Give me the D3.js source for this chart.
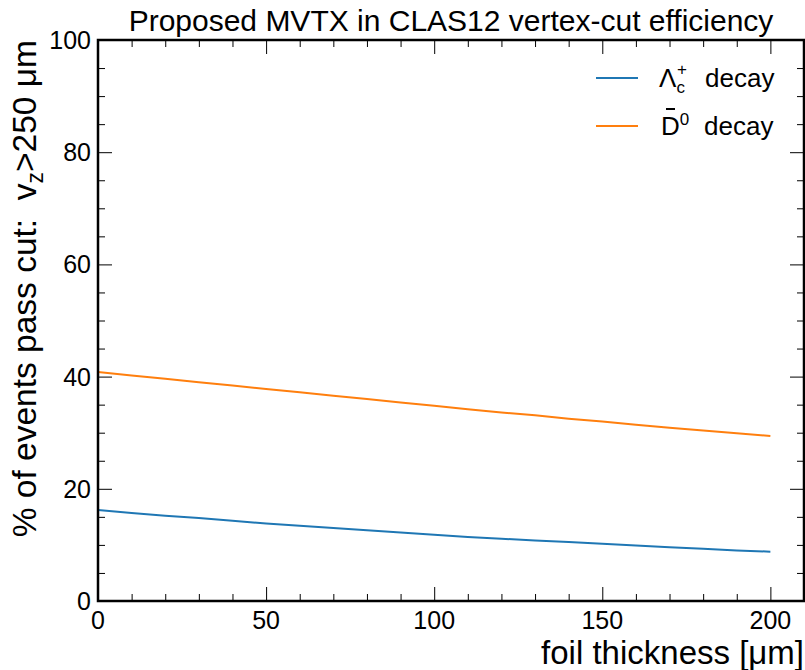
<!DOCTYPE html>
<html>
<head>
<meta charset="utf-8">
<script src="https://cdn.jsdelivr.net/npm/d3@7"></script>
<style>
	html, body { margin: 0; padding: 0; background: #fff; }
	svg { display: block; font-family: 'Liberation Sans', Arial, sans-serif; }
</style>
</head>
<body>
<script>
(function() {
	'use strict';

	// DATA //

	var thickness = [ 0, 10, 20, 30, 40, 50, 60, 70, 80, 90, 100, 110, 120, 130, 140, 150, 160, 170, 180, 190, 200 ],
		lambdaC = [ 16.2, 15.7, 15.2, 14.8, 14.3, 13.8, 13.4, 13.0, 12.6, 12.2, 11.8, 11.4, 11.1, 10.8, 10.5, 10.2, 9.9, 9.6, 9.3, 9.0, 8.8 ],
		dbar0 = [ 40.8, 40.2, 39.6, 39.0, 38.4, 37.8, 37.2, 36.6, 36.0, 35.4, 34.8, 34.2, 33.6, 33.1, 32.5, 32.0, 31.4, 30.9, 30.4, 29.9, 29.4 ],
		xTicks = [ 0, 50, 100, 150, 200 ],
		yTicks = [ 0, 20, 40, 60, 80, 100 ];


	// VARIABLES //

	var WIDTH = 805,
		HEIGHT = 670,
		LEFT = 98,
		RIGHT = 804,
		TOP = 40,
		BOTTOM = 601,
		MAJOR = 14,
		MINOR = 7,
		BLUE = '#1f77b4',
		ORANGE = '#ff7f0e';

	var svg,
		x,
		y,
		line,
		xMinor,
		yMinor,
		leg;

	// Create the canvas:
	svg = d3.select( 'body' ).append( 'svg' )
		.attr( 'width', WIDTH )
		.attr( 'height', HEIGHT )
		.attr( 'viewBox', '0 0 ' + WIDTH + ' ' + HEIGHT );

	// Scales:
	x = d3.scaleLinear().domain( [ 0, 210 ] ).range( [ LEFT, RIGHT ] );
	y = d3.scaleLinear().domain( [ 0, 100 ] ).range( [ BOTTOM, TOP ] );

	xMinor = d3.range( 0, 211, 10 ).filter( function ( d ) { return d % 50 !== 0; } );
	yMinor = d3.range( 0, 101, 5 ).filter( function ( d ) { return d % 20 !== 0; } );

	// Inward ticks on all four sides:
	function ticks( axis, sel, len ) {
		svg.append( 'g' )
			.attr( 'transform', sel )
			.call( axis.tickSize( -len ).tickFormat( '' ) )
			.call( function ( g ) {
				g.select( '.domain' ).remove();
				g.selectAll( 'line' ).attr( 'stroke', '#000' ).attr( 'stroke-width', 1 );
			});
	}
	ticks( d3.axisBottom( x ).tickValues( xTicks ), 'translate(0,' + BOTTOM + ')', MAJOR );
	ticks( d3.axisBottom( x ).tickValues( xMinor ), 'translate(0,' + BOTTOM + ')', MINOR );
	ticks( d3.axisTop( x ).tickValues( xTicks ), 'translate(0,' + TOP + ')', MAJOR );
	ticks( d3.axisTop( x ).tickValues( xMinor ), 'translate(0,' + TOP + ')', MINOR );
	ticks( d3.axisLeft( y ).tickValues( yTicks ), 'translate(' + LEFT + ',0)', MAJOR );
	ticks( d3.axisLeft( y ).tickValues( yMinor ), 'translate(' + LEFT + ',0)', MINOR );
	ticks( d3.axisRight( y ).tickValues( yTicks ), 'translate(' + RIGHT + ',0)', MAJOR );
	ticks( d3.axisRight( y ).tickValues( yMinor ), 'translate(' + RIGHT + ',0)', MINOR );

	// Tick labels:
	svg.append( 'g' ).selectAll( 'text' )
		.data( xTicks )
	  .enter().append( 'text' )
		.attr( 'x', function ( d ) { return x( d ); } )
		.attr( 'y', BOTTOM + 28 )
		.attr( 'text-anchor', 'middle' )
		.attr( 'font-size', 25 )
		.text( function ( d ) { return d; } );

	svg.append( 'g' ).selectAll( 'text' )
		.data( yTicks )
	  .enter().append( 'text' )
		.attr( 'x', LEFT - 7 )
		.attr( 'y', function ( d ) { return y( d ) + 9; } )
		.attr( 'text-anchor', 'end' )
		.attr( 'font-size', 25 )
		.text( function ( d ) { return d; } );

	// Lines:
	line = function ( vals ) {
		return d3.line()
			.x( function ( d, i ) { return x( thickness[ i ] ); } )
			.y( function ( d ) { return y( d ); } )( vals );
	};
	svg.append( 'path' )
		.attr( 'd', line( lambdaC ) )
		.attr( 'fill', 'none' )
		.attr( 'stroke', BLUE )
		.attr( 'stroke-width', 2 );
	svg.append( 'path' )
		.attr( 'd', line( dbar0 ) )
		.attr( 'fill', 'none' )
		.attr( 'stroke', ORANGE )
		.attr( 'stroke-width', 2 );

	// Frame:
	svg.append( 'rect' )
		.attr( 'x', LEFT )
		.attr( 'y', TOP )
		.attr( 'width', RIGHT - LEFT )
		.attr( 'height', BOTTOM - TOP )
		.attr( 'fill', 'none' )
		.attr( 'stroke', '#000' )
		.attr( 'stroke-width', 2.5 );

	// Title:
	svg.append( 'text' )
		.attr( 'x', ( LEFT + RIGHT ) / 2 )
		.attr( 'y', 31 )
		.attr( 'text-anchor', 'middle' )
		.attr( 'font-size', 30 )
		.text( 'Proposed MVTX in CLAS12 vertex-cut efficiency' );

	// Axis labels:
	svg.append( 'text' )
		.attr( 'x', RIGHT )
		.attr( 'y', 664 )
		.attr( 'text-anchor', 'end' )
		.attr( 'font-size', 33 )
		.text( 'foil thickness [μm]' );

	var yl = svg.append( 'text' )
		.attr( 'transform', 'translate(36,' + TOP + ') rotate(-90)' )
		.attr( 'text-anchor', 'end' )
		.attr( 'font-size', 33.5 );
	yl.append( 'tspan' ).text( '% of events pass cut:\u00a0\u00a0v' );
	yl.append( 'tspan' ).attr( 'font-size', 23 ).attr( 'dy', 7 ).text( 'z' );
	yl.append( 'tspan' ).attr( 'dy', -7 ).text( '>250 μm' );

	// Legend:
	leg = svg.append( 'g' );
	leg.append( 'line' )
		.attr( 'x1', 596 ).attr( 'x2', 638 )
		.attr( 'y1', 78 ).attr( 'y2', 78 )
		.attr( 'stroke', BLUE ).attr( 'stroke-width', 2 );
	leg.append( 'line' )
		.attr( 'x1', 596 ).attr( 'x2', 638 )
		.attr( 'y1', 126 ).attr( 'y2', 126 )
		.attr( 'stroke', ORANGE ).attr( 'stroke-width', 2 );

	var t1 = leg.append( 'text' )
		.attr( 'x', 659 )
		.attr( 'y', 87 )
		.attr( 'font-size', 26 );
	t1.append( 'tspan' ).text( 'Λ' );
	t1.append( 'tspan' ).attr( 'font-size', 17 ).attr( 'dy', 6 ).text( 'c' );
	t1.append( 'tspan' ).attr( 'font-size', 17 ).attr( 'dx', -8 ).attr( 'dy', -18 ).text( '+' );
	t1.append( 'tspan' ).attr( 'x', 705 ).attr( 'y', 87 ).text( 'decay' );

	var t2 = leg.append( 'text' )
		.attr( 'x', 661 )
		.attr( 'y', 135 )
		.attr( 'font-size', 26 );
	t2.append( 'tspan' ).text( 'D' );
	t2.append( 'tspan' ).attr( 'font-size', 17 ).attr( 'dy', -10 ).text( '0' );
	t2.append( 'tspan' ).attr( 'x', 704 ).attr( 'y', 135 ).text( 'decay' );
	leg.append( 'line' )
		.attr( 'x1', 666 ).attr( 'x2', 675 )
		.attr( 'y1', 109 ).attr( 'y2', 109 )
		.attr( 'stroke', '#000' ).attr( 'stroke-width', 2 );

})();
</script>
</body>
</html>
